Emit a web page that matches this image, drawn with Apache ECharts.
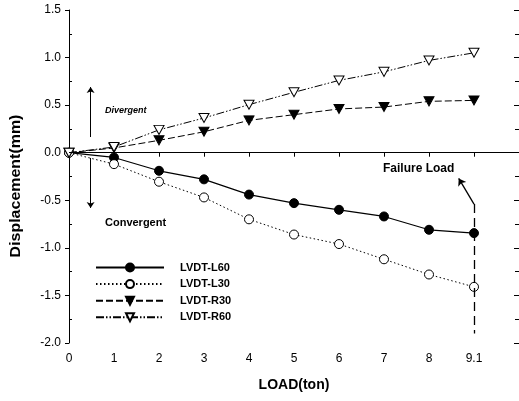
<!DOCTYPE html>
<html><head><meta charset="utf-8">
<script src="https://cdn.jsdelivr.net/npm/echarts@6/dist/echarts.min.js"></script>
<style>html,body{margin:0;padding:0;background:#fff}#c{width:519px;height:401px}</style>
</head><body><div id="c"></div>
<script>
const loads = [0, 1, 2, 3, 4, 5, 6, 7, 8, 9];
const tickLabels = ['0','1','2','3','4','5','6','7','8','9.1'];
const L60 = [0, -0.05, -0.19, -0.28, -0.44, -0.53, -0.60, -0.67, -0.81, -0.845];
const L30 = [0, -0.12, -0.305, -0.47, -0.70, -0.86, -0.96, -1.12, -1.28, -1.41];
const R30 = [0, 0.05, 0.13, 0.22, 0.34, 0.40, 0.46, 0.48, 0.54, 0.55];
const R60 = [0, 0.06, 0.24, 0.365, 0.505, 0.635, 0.76, 0.85, 0.97, 1.05];
const names = ['LVDT-L60','LVDT-L30','LVDT-R30','LVDT-R60'];

const triDown = 'path://M0,0 L10,0 L5,9 Z';
const pair = arr => loads.map((x,i)=>[x, arr[i]]);
const F = '"Liberation Sans", Arial, sans-serif';

const chart = echarts.init(document.getElementById('c'));
const base = {type:'line', silent:true, z:3};
const thin = {type:'solid', width:1, color:'#000'};
const yCommon = {type:'value', min:-2, max:1.5, interval:0.5, splitLine:{show:false}};
chart.setOption({
  animation:false,
  textStyle:{fontFamily:F},
  grid:{left:69, right:-3, top:10, bottom:58},
  legend:{
    orient:'vertical', left:95, top:262, padding:0,
    itemWidth:68, itemHeight:10, itemGap:5.6,
    data:names,
    textStyle:{fontFamily:F, fontSize:11, fontWeight:'bold', color:'#000', padding:[0,0,0,11]}
  },
  xAxis:[{
    type:'value', min:0, max:10, interval:1,
    name:'LOAD(ton)', nameLocation:'middle', nameGap:35,
    nameTextStyle:{fontFamily:F, fontSize:14, fontWeight:'bold', color:'#000'},
    axisLine:{lineStyle:{color:'#000', width:1}},
    axisTick:{inside:false, length:4, lineStyle:{color:'#000'}, customValues:loads},
    axisLabel:{color:'#000', fontSize:12, margin:10, customValues:loads,
      formatter:v=>{const i=loads.indexOf(v); return i<0?'':tickLabels[i];}},
    splitLine:{show:false}
  },{
    type:'value', min:0, max:10, position:'top',
    axisLine:{show:true, lineStyle:{color:'#000'}}, axisTick:{show:false},
    axisLabel:{show:false}, splitLine:{show:false}
  }],
  yAxis:[Object.assign({}, yCommon, {
    position:'left',
    axisLine:{show:true, lineStyle:{color:'#000'}},
    axisTick:{inside:false, length:4, lineStyle:{color:'#000'}},
    axisLabel:{color:'#000', fontSize:12, margin:8, formatter:v=>v.toFixed(1)}
  }), Object.assign({}, yCommon, {
    position:'left', offset:0,
    axisLine:{show:false},
    axisTick:{show:false, inside:true},
    minorTick:{show:true, splitNumber:2, length:3, lineStyle:{color:'#000'}},
    axisLabel:{show:false}
  }), Object.assign({}, yCommon, {
    position:'right',
    axisLine:{show:true, lineStyle:{color:'#000'}},
    axisTick:{inside:true, length:5, lineStyle:{color:'#000'}},
    minorTick:{show:true, splitNumber:2, length:4, lineStyle:{color:'#000'}},
    axisLabel:{show:false}
  })],
  series:[
    Object.assign({}, base, {name:names[0], data:pair(L60), symbol:'circle', symbolSize:9,
      lineStyle:{color:'#000', width:1.2, type:'solid'},
      itemStyle:{color:'#000', borderColor:'#000', borderWidth:1},
      markLine:{silent:true, symbol:['none','none'], label:{show:false}, symbolSize:7,
        lineStyle:{color:'#000', width:1.2, type:'solid'},
        data:[
          {yAxis:0},
          [{coord:[9,-0.54], lineStyle:{type:[9,5], width:1.3, color:'#000'}},{coord:[9,-1.9]}],
          [{coord:[9,-0.54], lineStyle:{type:'solid', width:1.3, color:'#000'}},{coord:[8.66,-0.27], symbol:'arrow', symbolSize:7}],
          [{coord:[0.48,0.165], lineStyle:thin},{coord:[0.48,0.69], symbol:'arrow', symbolSize:6}],
          [{coord:[0.48,-0.055], lineStyle:thin},{coord:[0.48,-0.58], symbol:'arrow', symbolSize:6}]
        ]
      }}),
    Object.assign({}, base, {name:names[1], data:pair(L30), symbol:'circle', symbolSize:9,
      lineStyle:{color:'#000', width:1, type:[1.5,2.5]},
      itemStyle:{color:'#fff', borderColor:'#000', borderWidth:1}}),
    Object.assign({}, base, {name:names[2], data:pair(R30), symbol:triDown, symbolSize:[10,9],
      lineStyle:{color:'#000', width:1, type:[7,3]},
      itemStyle:{color:'#000', borderColor:'#000', borderWidth:1}}),
    Object.assign({}, base, {name:names[3], data:pair(R60), symbol:triDown, symbolSize:[10,9],
      lineStyle:{color:'#000', width:1, type:[8,2,1.5,2,1.5,2]},
      itemStyle:{color:'#fff', borderColor:'#000', borderWidth:1}})
  ],
  graphic:[
    {type:'text', x:16, y:186, rotation:Math.PI/2, scaleX:1.14,
      style:{text:'Displacement(mm)', font:'bold 14px '+F, fill:'#000', align:'center', verticalAlign:'middle'}},
    {type:'text', left:105, top:106, style:{text:'Divergent', font:'italic bold 9px '+F, fill:'#000'}},
    {type:'text', left:105, top:217, style:{text:'Convergent', font:'bold 11px '+F, fill:'#000'}},
    {type:'text', left:383, top:163, style:{text:'Failure Load', font:'bold 12px '+F, fill:'#000'}}
  ]
});
</script></body></html>
